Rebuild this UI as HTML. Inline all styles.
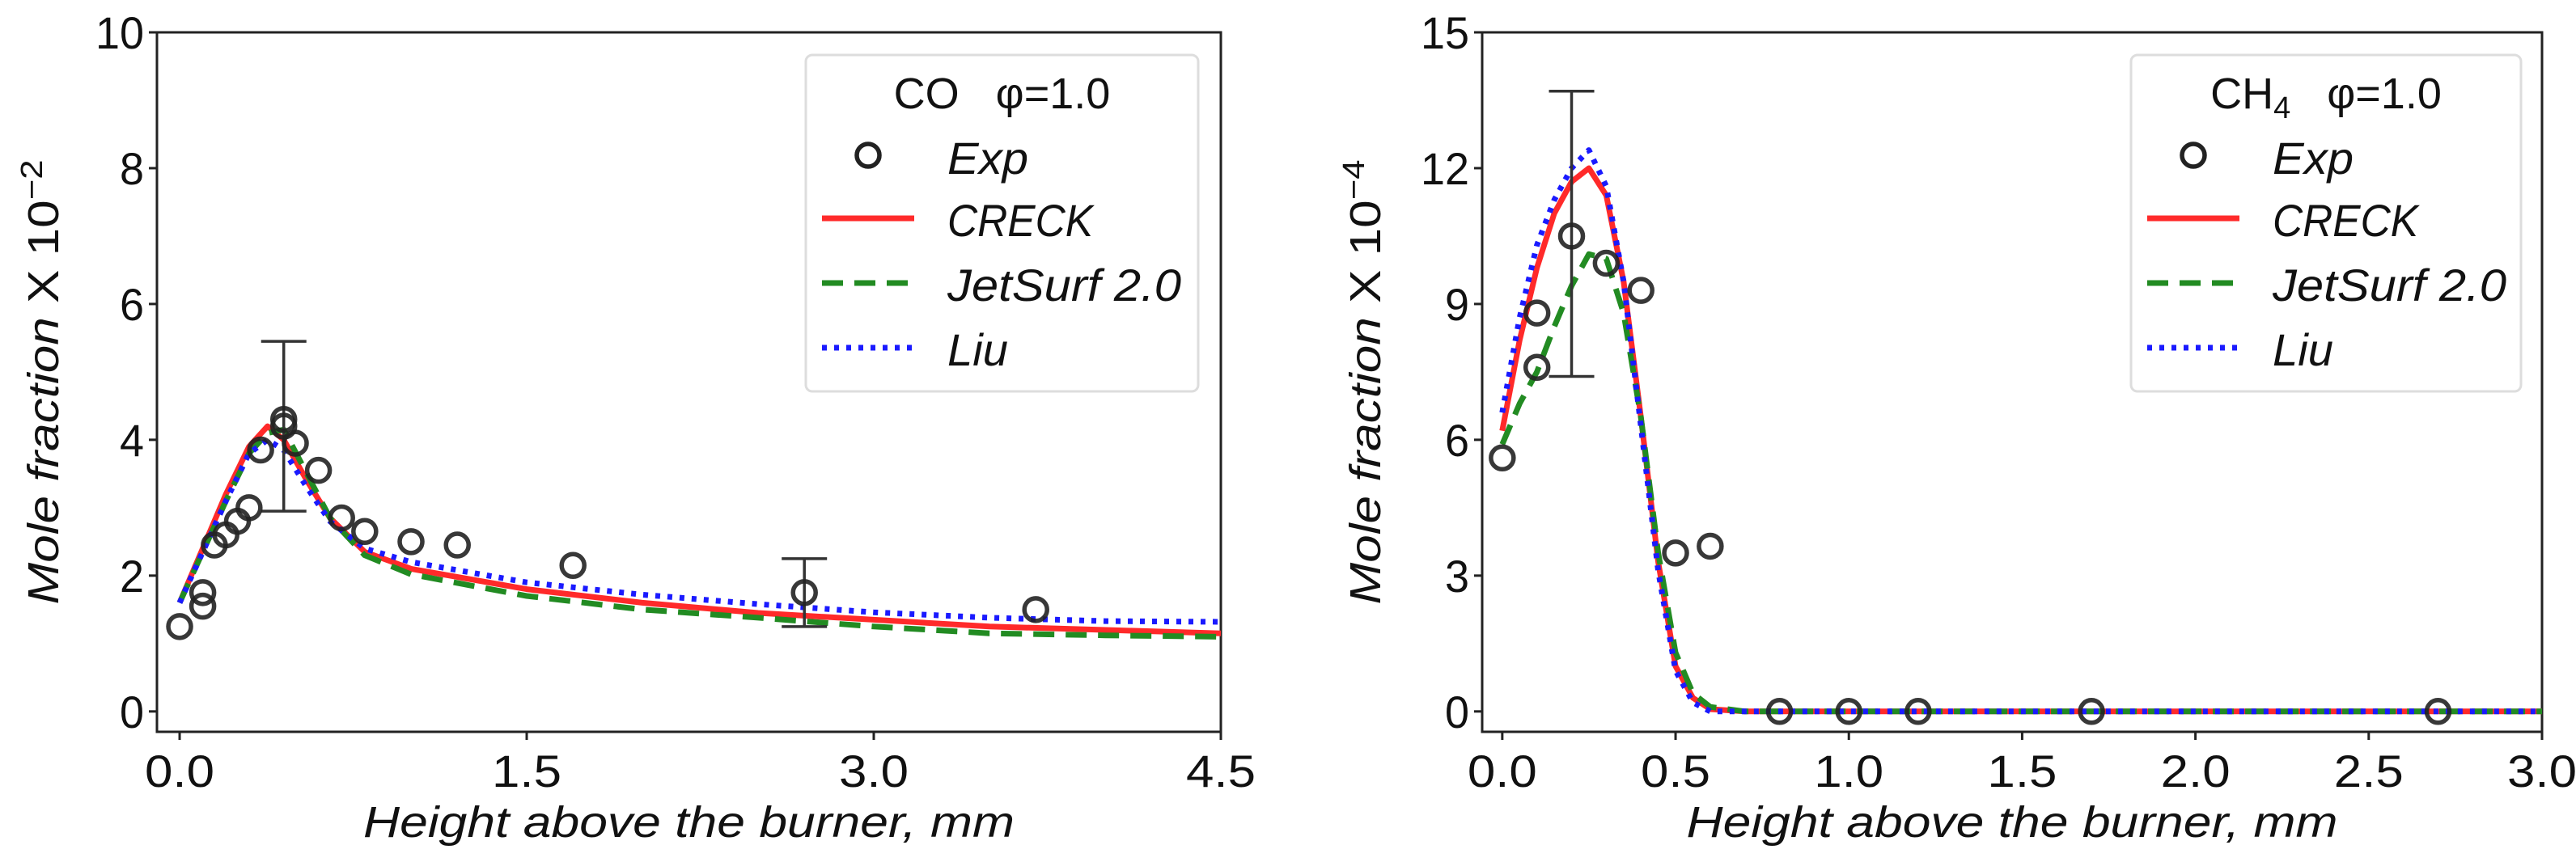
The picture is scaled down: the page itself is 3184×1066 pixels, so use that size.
<!DOCTYPE html>
<html><head><meta charset="utf-8"><style>
html,body{margin:0;padding:0;background:#fff;width:3184px;height:1066px;overflow:hidden}
svg text{font-family:"Liberation Sans",sans-serif;fill:#111}
</style></head><body>
<svg id="fig" width="3184" height="1066" viewBox="0 0 3184 1066" xmlns="http://www.w3.org/2000/svg"></svg>
<script>
// ---- CO panel data ----
const coExpX=[0,0.1,0.1,0.15,0.2,0.25,0.3,0.35,0.45,0.45,0.5,0.6,0.7,0.8,1.0,1.2,1.7,2.7,3.7];
const coExpY=[1.25,1.55,1.75,2.45,2.6,2.8,3.0,3.85,4.2,4.3,3.95,3.55,2.85,2.65,2.5,2.45,2.15,1.75,1.5];
const coErrX=[0.45,2.7];
const coErrLo=[2.95,1.25];
const coErrHi=[5.45,2.25];
const coX=[0,0.1,0.2,0.3,0.38,0.45,0.55,0.65,0.8,1.0,1.5,2.0,2.5,3.0,3.5,4.0,4.5];
const coCreck=[1.6,2.4,3.2,3.9,4.2,4.0,3.4,2.85,2.35,2.1,1.8,1.6,1.45,1.35,1.25,1.2,1.15];
const coJet=[1.6,2.35,3.1,3.8,4.1,4.15,3.5,2.85,2.3,2.02,1.7,1.5,1.38,1.25,1.15,1.12,1.1];
const coLiu=[1.6,2.35,3.1,3.8,4.0,3.85,3.3,2.8,2.4,2.2,1.9,1.72,1.58,1.46,1.38,1.33,1.32];
const coXTicks=[0.0,1.5,3.0,4.5];
const coXTickLabels=["0.0","1.5","3.0","4.5"];
const coYTicks=[0,2,4,6,8,10];
// ---- CH4 panel data ----
const chExpX=[0,0.1,0.1,0.2,0.3,0.4,0.5,0.6,0.8,1.0,1.2,1.7,2.7];
const chExpY=[5.6,8.8,7.6,10.5,9.9,9.3,3.5,3.65,0,0,0,0,0];
const chErrX=[0.2];
const chErrLo=[7.4];
const chErrHi=[13.7];
const chX=[0,0.05,0.1,0.15,0.2,0.25,0.3,0.35,0.4,0.45,0.5,0.55,0.6,0.7,1.0,2.0,3.0];
const chCreck=[6.2,8.2,9.8,11.0,11.7,12.0,11.4,9.5,6.5,3.3,1.0,0.3,0.05,0,0,0,0];
const chJet=[5.9,6.8,7.5,8.5,9.4,10.1,10.0,8.8,6.5,3.5,1.3,0.4,0.1,0,0,0,0];
const chLiu=[6.6,8.7,10.3,11.3,12.0,12.4,11.6,9.5,6.3,3.1,0.9,0.2,0.0,0,0,0,0];
const chXTicks=[0,0.5,1.0,1.5,2.0,2.5,3.0];
const chXTickLabels=["0.0","0.5","1.0","1.5","2.0","2.5","3.0"];
const chYTicks=[0,3,6,9,12,15];

const NS="http://www.w3.org/2000/svg";
const svg=document.getElementById('fig');
function mk(tag,attrs,parent){const e=document.createElementNS(NS,tag);for(const k in attrs)e.setAttribute(k,attrs[k]);(parent||svg).appendChild(e);return e;}

function panel(o){
  const g=mk('g',{});
  
  
  const sx=v=>o.L+(v-o.x0)/(o.x1-o.x0)*(o.R-o.L);
  const sy=v=>o.B-(v-o.y0)/(o.y1-o.y0)*(o.B-o.T);
  const fr=mk('rect',{x:o.L,y:o.T,width:o.R-o.L,height:o.B-o.T,fill:'none',stroke:'#222','stroke-width':3},g);
  
  
  o.xt.forEach((t,i)=>{
    mk('line',{x1:sx(t),x2:sx(t),y1:o.B,y2:o.B+10,stroke:'#222','stroke-width':3},g);
    const tx=mk('text',{x:sx(t),y:o.B+68,'font-size':56,'text-anchor':'middle',textLength:86,lengthAdjust:'spacingAndGlyphs'},g);
    tx.textContent=o.xtl[i];
    
    
  });
  o.yt.forEach(t=>{
    mk('line',{x1:o.L-10,x2:o.L,y1:sy(t),y2:sy(t),stroke:'#222','stroke-width':3},g);
    const tx=mk('text',{x:o.L-16,y:sy(t)+20,'font-size':56,'text-anchor':'end',textLength:String(t).length*30,lengthAdjust:'spacingAndGlyphs'},g);
    tx.textContent=String(t);
    
    
  });
  const xl=mk('text',{x:(o.L+o.R)/2,y:1035,'font-size':54,'font-style':'italic','text-anchor':'middle',textLength:805,lengthAdjust:'spacingAndGlyphs'},g);
  xl.textContent='Height above the burner, mm';
  
  
  const yl=mk('text',{x:0,y:0,'font-size':54,'text-anchor':'middle',textLength:550,lengthAdjust:'spacingAndGlyphs',transform:`translate(${o.ylx},${(o.T+o.B)/2}) rotate(-90)`},g);
  yl.innerHTML='<tspan font-style="italic">Mole fraction</tspan> X 10<tspan dy="-20" font-size="38">'+o.exp+'</tspan>';
  
  
  const cid='clip'+o.name;
  const cp=mk('clipPath',{id:cid},g);mk('rect',{x:o.L,y:o.T,width:o.R-o.L,height:o.B-o.T},cp);
  const pg=mk('g',{'clip-path':`url(#${cid})`},g);
  const series=[[o.cr,'#ff2a2a','none','creck-line'],[o.jt,'#228b22','26 14','jetsurf-line'],[o.lu,'#1a1aff','6 9','liu-line']];
  series.forEach(s=>{
    const pts=o.cx.map((x,i)=>sx(x).toFixed(1)+','+sy(s[0][i]).toFixed(1)).join(' ');
    const p=mk('polyline',{points:pts,fill:'none',stroke:s[1],'stroke-width':7,'stroke-dasharray':s[2],'stroke-linejoin':'round'},pg);
    
    
  });
  o.ex.forEach((x,i)=>{
    const eb=mk('g',{},pg);
    
    
    mk('line',{x1:sx(x),x2:sx(x),y1:sy(o.elo[i]),y2:sy(o.ehi[i]),stroke:'#333','stroke-width':3.5},eb);
    mk('line',{x1:sx(x)-28,x2:sx(x)+28,y1:sy(o.elo[i]),y2:sy(o.elo[i]),stroke:'#333','stroke-width':3.5},eb);
    mk('line',{x1:sx(x)-28,x2:sx(x)+28,y1:sy(o.ehi[i]),y2:sy(o.ehi[i]),stroke:'#333','stroke-width':3.5},eb);
  });
  o.px.forEach((x,i)=>{
    const c=mk('circle',{cx:sx(x),cy:sy(o.py[i]),r:14,fill:'none',stroke:'#222','stroke-width':5.5,'stroke-opacity':0.9},g);
    
    
  });
  const lg=mk('g',{},g);
  
  
  mk('rect',{x:o.lgx,y:68,width:o.lgw,height:416,rx:8,fill:'#fff','fill-opacity':0.9,stroke:'#ddd','stroke-width':3},lg);
  const tt=mk('text',{x:o.lgx+o.lgw/2,y:134,'font-size':54,'text-anchor':'middle'},lg);
  tt.innerHTML=o.title;
  
  
  const hx=o.lgx+20, tx=o.lgx+175;
  const entries=[['Exp',null,100],['CRECK',series[0],180],['JetSurf 2.0',series[1],289],['Liu',series[2],75]];
  const ys=[195,272,352,432];
  entries.forEach((e,i)=>{
    const eg=mk('g',{},lg);
    
    
    if(e[1]) mk('line',{x1:hx,x2:hx+114,y1:ys[i]-2,y2:ys[i]-2,stroke:e[1][1],'stroke-width':7,'stroke-dasharray':e[1][2]},eg);
    else mk('circle',{cx:hx+57,cy:ys[i]-3,r:14,fill:'none',stroke:'#222','stroke-width':5.5},eg);
    const t=mk('text',{x:tx,y:ys[i]+20,'font-size':56,'font-style':'italic',textLength:e[2],lengthAdjust:'spacingAndGlyphs'},eg);
    t.textContent=e[0];
  });
}
panel({name:'co-panel',L:194,R:1509,T:40,B:905,x0:-0.098,x1:4.5,y0:-0.3,y1:10,
  xt:coXTicks,xtl:coXTickLabels,yt:coYTicks,ylx:72,exp:'−2',
  cx:coX,cr:coCreck,jt:coJet,lu:coLiu,px:coExpX,py:coExpY,ex:coErrX,elo:coErrLo,ehi:coErrHi,
  lgx:996,lgw:485,title:'CO&#160;&#160;&#160;φ=1.0'});
panel({name:'ch4-panel',L:1832,R:3142,T:40,B:905,x0:-0.058,x1:3.0,y0:-0.45,y1:15,
  xt:chXTicks,xtl:chXTickLabels,yt:chYTicks,ylx:1706,exp:'−4',
  cx:chX,cr:chCreck,jt:chJet,lu:chLiu,px:chExpX,py:chExpY,ex:chErrX,elo:chErrLo,ehi:chErrHi,
  lgx:2634,lgw:482,title:'CH<tspan dy="12" font-size="38">4</tspan><tspan dy="-12">&#160;&#160;&#160;φ=1.0</tspan>'});
</script>
</body></html>
